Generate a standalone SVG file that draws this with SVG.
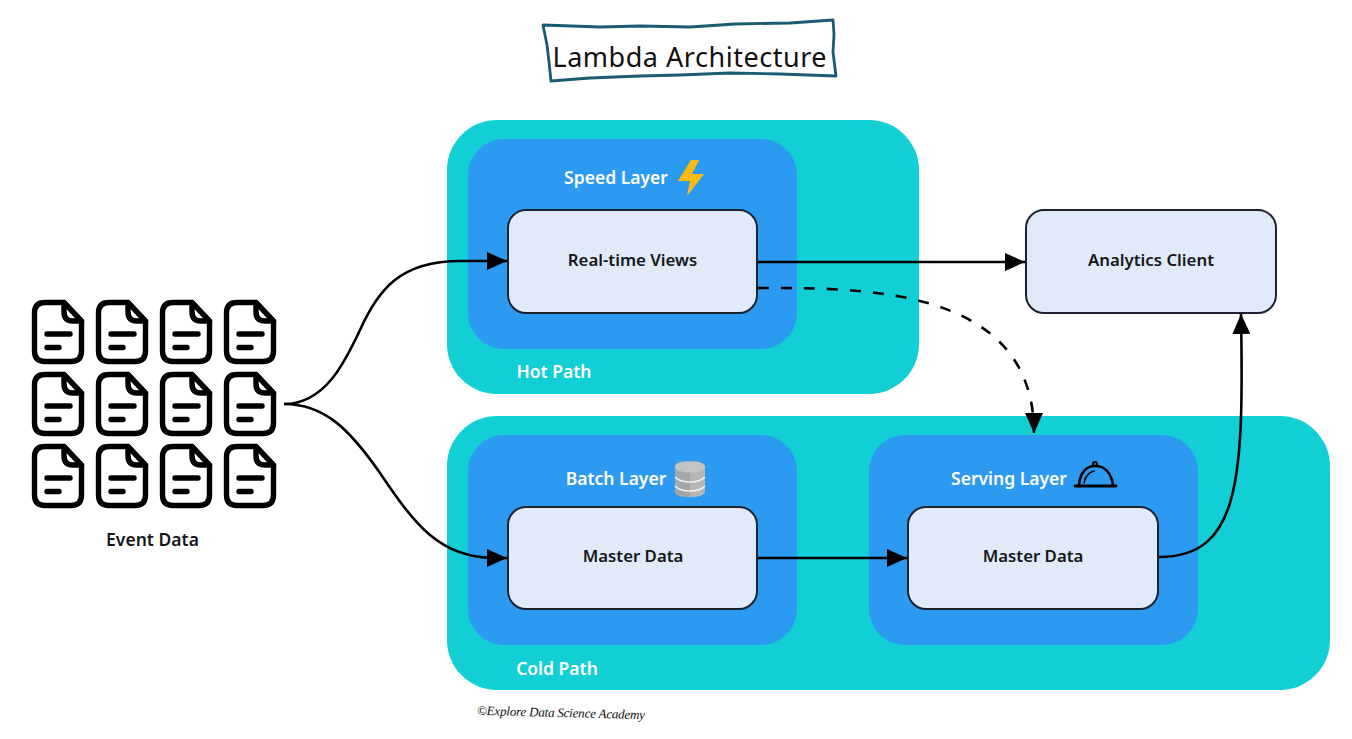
<svg xmlns="http://www.w3.org/2000/svg" xmlns:xlink="http://www.w3.org/1999/xlink" width="1352" height="739" viewBox="0 0 1352 739">
<style>
text{font-family:"Noto Sans","Open Sans","Liberation Sans",sans-serif;font-weight:600;font-size:16.8px;text-anchor:middle}
.big{font-size:17.5px}
.path{fill:#12cfd6}
.layer{fill:#2c9af0}
.box{fill:#e0eaf9;stroke:#1c2230;stroke-width:2}
.white{fill:#fff}
.dark{fill:#14161c}
.conn{fill:none;stroke:#000;stroke-width:2.6}
.doc{fill:none;stroke:#000;stroke-width:5.4;stroke-linecap:round;stroke-linejoin:round}
</style>
<defs>
<marker id="arrow" viewBox="0 0 20 18" refX="20" refY="9" markerWidth="20" markerHeight="18" markerUnits="userSpaceOnUse" orient="auto"><path d="M0 0L20 9L0 18Z" fill="#000"/></marker>
<g id="docIcon" class="doc">
<path d="M32 2.5H13Q2.5 2.5 2.5 13V51Q2.5 61.5 13 61.5H39Q49.5 61.5 49.5 51V21Z"/>
<path d="M32 2.5L49.5 21H41Q32 21 32 12Z"/>
<path d="M15 34H38M15 47.5H27"/>
</g>
</defs>
<rect width="1352" height="739" fill="#fff"/>
<g id="title">
<path d="M543 25L600 27L640 26L690 27L735 24L790 23L833 20L834 34L833 52L836 76L780 74L730 73L680 75L640 76L590 78L551 81L549 62L547 45Z" fill="#fff" stroke="#1a5a73" stroke-width="2.8" stroke-linejoin="round"/>
<text x="689.500" y="67" textLength="274" lengthAdjust="spacing" style="font-size:27px;font-weight:400;fill:#111">Lambda Architecture</text>
</g>
<g id="hot-path"><rect class="path" x="447" y="120" width="472" height="274" rx="50"/><text class="white big" x="554" y="378">Hot Path</text></g>
<g id="cold-path"><rect class="path" x="447" y="416" width="883" height="274" rx="50"/><text class="white big" x="557" y="675">Cold Path</text></g>
<g id="speed-layer"><rect class="layer" x="468" y="139" width="329" height="210" rx="36"/><text class="white big" x="616" y="183.500">Speed Layer</text>
<path d="M691 160L678 181L690 181L687 196L704 174L692 174L699 160Z" fill="#fdbb11"/></g>
<g id="batch-layer"><rect class="layer" x="468" y="435" width="329" height="210" rx="36"/><text class="white big" x="616" y="485">Batch Layer</text>
<path d="M675 467Q675 461 690 461Q705 461 705 467V491Q705 497 690 497Q675 497 675 491Z" fill="#b4b7b5"/>
<path d="M675 467Q675 461 690 461V497Q675 497 675 491Z" fill="#a4a7a5"/>
<ellipse cx="690" cy="467" rx="15" ry="5.500" fill="#c2c5c3"/>
<path d="M675 477Q680 482 690 482Q700 482 705 477M675 486Q680 491 690 491Q700 491 705 486" fill="none" stroke="#f0f1f0" stroke-width="1.600"/></g>
<g id="serving-layer"><rect class="layer" x="869" y="435" width="329" height="210" rx="36"/><text class="white big" x="1009" y="485">Serving Layer</text>
<g fill="none" stroke="#000" stroke-linecap="round"><path d="M1075 486H1116" stroke-width="2.800"/><path d="M1079 485C1080 472 1087 466 1095 466C1104 466 1111 472 1113 485" stroke-width="2.600"/><circle cx="1095" cy="464" r="2" stroke-width="2"/><path d="M1084 483C1085 477 1089 472 1094 471" stroke-width="1.600"/></g></g>
<g id="real-time-views"><rect class="box" x="508" y="210" width="249" height="103" rx="18"/><text class="dark" x="632.500" y="266">Real-time Views</text></g>
<g id="analytics-client"><rect class="box" x="1026" y="210" width="250" height="103" rx="18"/><text class="dark" x="1151" y="266">Analytics Client</text></g>
<g id="master-data-batch"><rect class="box" x="508" y="507" width="249" height="102" rx="18"/><text class="dark" x="633" y="562">Master Data</text></g>
<g id="master-data-serving"><rect class="box" x="908" y="507" width="250" height="102" rx="18"/><text class="dark" x="1033" y="562">Master Data</text></g>
<g id="event-data">
<use href="#docIcon" x="32" y="300"/><use href="#docIcon" x="96" y="300"/><use href="#docIcon" x="160" y="300"/><use href="#docIcon" x="224" y="300"/>
<use href="#docIcon" x="32" y="372"/><use href="#docIcon" x="96" y="372"/><use href="#docIcon" x="160" y="372"/><use href="#docIcon" x="224" y="372"/>
<use href="#docIcon" x="32" y="444"/><use href="#docIcon" x="96" y="444"/><use href="#docIcon" x="160" y="444"/><use href="#docIcon" x="224" y="444"/>
<text class="dark big" x="152.500" y="546">Event Data</text>
</g>
<g id="connectors">
<path class="conn" marker-end="url(#arrow)" d="M284 404C325 404 345 362 360 330C378 290 400 261 460 261H507"/>
<path class="conn" marker-end="url(#arrow)" d="M284 404C325 404 350 430 380 473C415 525 440 558 495 558H507"/>
<path class="conn" marker-end="url(#arrow)" d="M758 262H1025"/>
<path class="conn" marker-end="url(#arrow)" d="M758 288C860 288 1034 285 1034 433" stroke-dasharray="11 12"/>
<path class="conn" marker-end="url(#arrow)" d="M758 558H907"/>
<path class="conn" marker-end="url(#arrow)" d="M1159 557C1240 557 1244 480 1241 314"/>
</g>
<g id="credit"><text x="561" y="717" textLength="168" lengthAdjust="spacing" transform="rotate(1.500 561 713)" style="font-size:13px;font-weight:400;font-family:'Liberation Serif',serif;font-style:italic;fill:#111">©Explore Data Science Academy</text></g>
</svg>
